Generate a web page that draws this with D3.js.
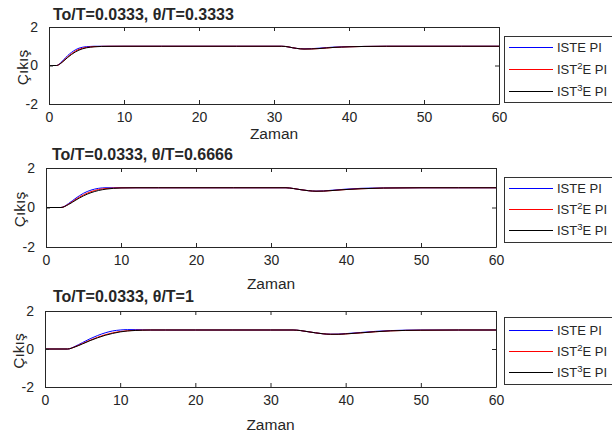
<!DOCTYPE html>
<html><head><meta charset="utf-8">
<script src="https://cdn.jsdelivr.net/npm/d3@7"></script>
<style>body{margin:0;background:#fff}svg{display:block}text{font-family:"Liberation Sans",Arial,sans-serif;fill:#262626}</style>
</head><body>
<svg id="c" width="612" height="435"></svg>
<script>
const titles = ["To/T=0.0333, \u03b8/T=0.3333", "To/T=0.0333, \u03b8/T=0.6666", "To/T=0.0333, \u03b8/T=1"];
const xTicks = [0, 10, 20, 30, 40, 50, 60];
const yTicks = [-2, 0, 2];
const seriesNames = ["ISTE PI", "IST2E PI", "IST3E PI"];
const xLabel = "Zaman", yLabel = "Çıkış";

// Panel 1 (delay 1)
const t1 = [0,1,1.5,2,2.5,3,3.5,4,4.5,5,5.5,6,7,8,10,15,20,25,30,31,31.5,32,32.5,33,33.5,34,35,36,37,38,40,42,45,50,55,60];
const iste1 = [0,0,0.12,0.32,0.52,0.68,0.81,0.9,0.95,0.98,0.99,1,1,1,1,1,1,1,1,1,0.99,0.96,0.92,0.89,0.87,0.865,0.875,0.9,0.93,0.955,0.98,0.99,1,1,1,1];
const ist2e1 = [0,0,0.1,0.27,0.45,0.61,0.74,0.84,0.9,0.94,0.965,0.98,0.995,1,1,1,1,1,1,1,0.99,0.96,0.92,0.89,0.865,0.855,0.86,0.88,0.91,0.94,0.97,0.99,1,1,1,1];
const ist3e1 = [0,0,0.09,0.25,0.42,0.57,0.7,0.8,0.87,0.92,0.95,0.97,0.99,0.995,1,1,1,1,1,1,0.99,0.96,0.92,0.89,0.865,0.855,0.86,0.88,0.91,0.94,0.97,0.99,1,1,1,1];

// Panel 2 (delay 2)
const t2 = [0,2,3,4,5,6,7,8,9,10,12,15,20,25,30,32,33,34,35,36,37,38,40,42,45,50,55,60];
const iste2 = [0,0,0.2,0.48,0.72,0.88,0.97,1,1,1,1,1,1,1,1,1,0.96,0.9,0.85,0.83,0.84,0.87,0.93,0.97,0.99,1,1,1];
const ist2e2 = [0,0,0.17,0.42,0.64,0.8,0.91,0.96,0.985,0.995,1,1,1,1,1,1,0.96,0.9,0.85,0.825,0.83,0.855,0.91,0.95,0.985,1,1,1];
const ist3e2 = [0,0,0.15,0.38,0.59,0.75,0.86,0.93,0.97,0.99,1,1,1,1,1,1,0.96,0.9,0.85,0.825,0.83,0.855,0.91,0.95,0.985,1,1,1];

// Panel 3 (delay 3)
const t3 = [0,3,4,5,6,7,8,9,10,11,12,13,14,16,20,25,30,33,34,35,36,37,38,39,40,42,44,46,50,55,60];
const iste3 = [0,0,0.14,0.34,0.54,0.71,0.85,0.95,1.0,1.02,1.02,1.01,1.0,1,1,1,1,1,0.97,0.91,0.85,0.8,0.78,0.785,0.81,0.87,0.93,0.97,1,1,1];
const ist2e3 = [0,0,0.12,0.29,0.46,0.62,0.75,0.85,0.92,0.96,0.985,0.995,1,1,1,1,1,1,0.97,0.91,0.85,0.8,0.775,0.775,0.795,0.85,0.91,0.955,0.99,1,1];
const ist3e3 = [0,0,0.11,0.27,0.44,0.59,0.72,0.82,0.9,0.95,0.975,0.99,1,1,1,1,1,1,0.97,0.91,0.85,0.8,0.775,0.775,0.795,0.85,0.91,0.955,0.99,1,1];

const panels = [
  {t: t1, ys: [iste1, ist2e1, ist3e1], box: {l: 49, r: 499, t: 27, b: 104}, title: {x: 53, y: 20}, xl: 139, leg: {x: 504, y: 36, w: 108, h: 66, rows: [47.5, 69.5, 91.5]}},
  {t: t2, ys: [iste2, ist2e2, ist3e2], box: {l: 46, r: 496, t: 168, b: 247}, title: {x: 52, y: 160}, xl: 289, leg: {x: 504, y: 177, w: 108, h: 65, rows: [188.5, 209.5, 230.5]}},
  {t: t3, ys: [iste3, ist2e3, ist3e3], box: {l: 45, r: 496, t: 311, b: 387}, title: {x: 53, y: 302}, xl: 430, leg: {x: 504, y: 317, w: 108, h: 67, rows: [330.5, 351.5, 372.5]}}
];
const colors = ["#0000ff", "#ff0000", "#000000"];

const svg = d3.select("#c");
panels.forEach((p, i) => {
  const x = d3.scaleLinear().domain([0, 60]).range([p.box.l, p.box.r]);
  const y = d3.scaleLinear().domain([-2, 2]).range([p.box.b, p.box.t]);
  const g = svg.append("g");
  p.ys.forEach((ys, k) => {
    const line = d3.line().x((d, j) => x(p.t[j])).y(d => y(d)).curve(d3.curveMonotoneX);
    g.append("path").datum(ys).attr("d", line).attr("fill", "none").attr("stroke", colors[k]).attr("stroke-width", 1);
  });
  const ax = (gen, tr) => g.append("g").attr("transform", tr).call(gen);
  const fmt = d => String(d);
  const bottom = ax(d3.axisBottom(x).tickValues(xTicks).tickFormat(fmt).tickSizeInner(-4).tickSizeOuter(0).tickPadding(8), `translate(0,${p.box.b})`);
  const top = ax(d3.axisTop(x).tickValues(xTicks).tickSizeInner(-4).tickSizeOuter(0).tickFormat(""), `translate(0,${p.box.t})`);
  const left = ax(d3.axisLeft(y).tickValues(yTicks).tickFormat(fmt).tickSizeInner(-4).tickSizeOuter(0).tickPadding(11), `translate(${p.box.l},0)`);
  const right = ax(d3.axisRight(y).tickValues(yTicks).tickSizeInner(-4).tickSizeOuter(0).tickFormat(""), `translate(${p.box.r},0)`);
  [bottom, top, left, right].forEach(a => {
    a.select(".domain").attr("stroke", "#262626");
    a.selectAll(".tick line").attr("stroke", "#262626");
    a.selectAll(".tick text").attr("font-size", 14).attr("fill", "#262626").attr("font-family", '"Liberation Sans",Arial,sans-serif');
  });
  g.append("text").attr("x", p.title.x).attr("y", p.title.y).attr("font-size", 16).attr("font-weight", "bold").attr("fill", "#000").text(titles[i]);
  g.append("text").attr("x", (p.box.l + p.box.r) / 2).attr("y", p.xl).attr("text-anchor", "middle").attr("font-size", 15.5).text(xLabel);
  g.append("text").attr("transform", `translate(${p.box.l - 21},${(p.box.t + p.box.b) / 2 + 2}) rotate(-90)`).attr("text-anchor", "middle").attr("font-size", 15.5).text(yLabel);
  const L = p.leg;
  g.append("rect").attr("x", L.x + 0.5).attr("y", L.y + 0.5).attr("width", L.w).attr("height", L.h).attr("fill", "#fff").attr("stroke", "#333");
  seriesNames.forEach((name, k) => {
    const ry = L.rows[k];
    g.append("line").attr("x1", L.x + 5).attr("x2", L.x + 49).attr("y1", ry).attr("y2", ry).attr("stroke", colors[k]).attr("stroke-width", 1);
    const tx = g.append("text").attr("x", L.x + 53).attr("y", ry + 4.5).attr("font-size", 13).attr("fill", "#000");
    if (k === 0) tx.text(name);
    else {
      tx.append("tspan").text("IST");
      tx.append("tspan").attr("dy", -5).attr("font-size", 9.5).text(String(k + 1));
      tx.append("tspan").attr("dy", 5).text("E PI");
    }
  });
});
</script>
</body></html>
